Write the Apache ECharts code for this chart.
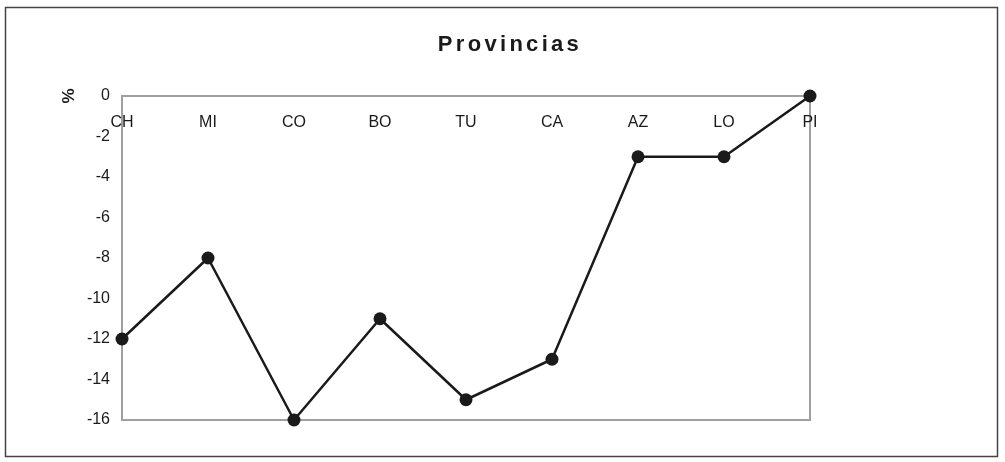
<!DOCTYPE html>
<html>
<head>
<meta charset="utf-8">
<script src="https://cdn.jsdelivr.net/npm/echarts@6/dist/echarts.min.js"></script>
<style>
  html, body { margin: 0; padding: 0; background: #fff; }
  .wrap { position: relative; width: 1005px; height: 462px; }
  #chart { width: 1005px; height: 462px; }
  .title {
    position: absolute;
    left: 0;
    width: 1020px;
    top: 31px;
    text-align: center;
    font-family: 'Liberation Sans', sans-serif;
    font-size: 22px;
    font-weight: bold;
    letter-spacing: 3.3px;
    color: #1a1a1a;
  }
</style>
</head>
<body>
<div class="wrap">
  <div id="chart"></div>
  <div class="title">Provincias</div>
</div>
<script>
const provinces = ['CH', 'MI', 'CO', 'BO', 'TU', 'CA', 'AZ', 'LO', 'PI']
const values = [-12, -8, -16, -11, -15, -13, -3, -3, 0]

const myChart = echarts.init(document.getElementById('chart'))
const option = {
  backgroundColor: '#fff',
  animation: false,
  graphic: [
    {
      type: 'rect',
      shape: { x: 5.5, y: 7.5, width: 992, height: 449 },
      style: { fill: 'none', stroke: '#444', lineWidth: 1.5 }
    },
    {
      type: 'text',
      x: 69,
      y: 96,
      rotation: Math.PI / 2,
      style: {
        text: '%',
        fill: '#1a1a1a',
        font: 'bold 17px "Liberation Sans"',
        align: 'center',
        verticalAlign: 'middle'
      }
    }
  ],
  grid: {
    left: 122,
    right: 195,
    top: 96,
    bottom: 42,
    show: true,
    borderColor: '#a0a0a0',
    borderWidth: 2,
    backgroundColor: 'transparent'
  },
  xAxis: {
    type: 'category',
    data: provinces,
    position: 'top',
    boundaryGap: false,
    axisLine: { show: false },
    axisTick: { show: false },
    splitLine: { show: false },
    axisLabel: {
      inside: true,
      margin: 19,
      color: '#1a1a1a',
      fontFamily: 'Liberation Sans',
      fontSize: 16
    }
  },
  yAxis: {
    type: 'value',
    min: -16,
    max: 0,
    interval: 2,
    axisLine: { show: false },
    axisTick: { show: false },
    splitLine: { show: false },
    axisLabel: {
      margin: 12,
      color: '#1a1a1a',
      fontFamily: 'Liberation Sans',
      fontSize: 16
    }
  },
  series: [{
    type: 'line',
    data: values,
    symbol: 'circle',
    symbolSize: 13,
    lineStyle: { color: '#1a1a1a', width: 2.5 },
    itemStyle: { color: '#1a1a1a' }
  }]
}
myChart.setOption(option)
</script>
</body>
</html>
